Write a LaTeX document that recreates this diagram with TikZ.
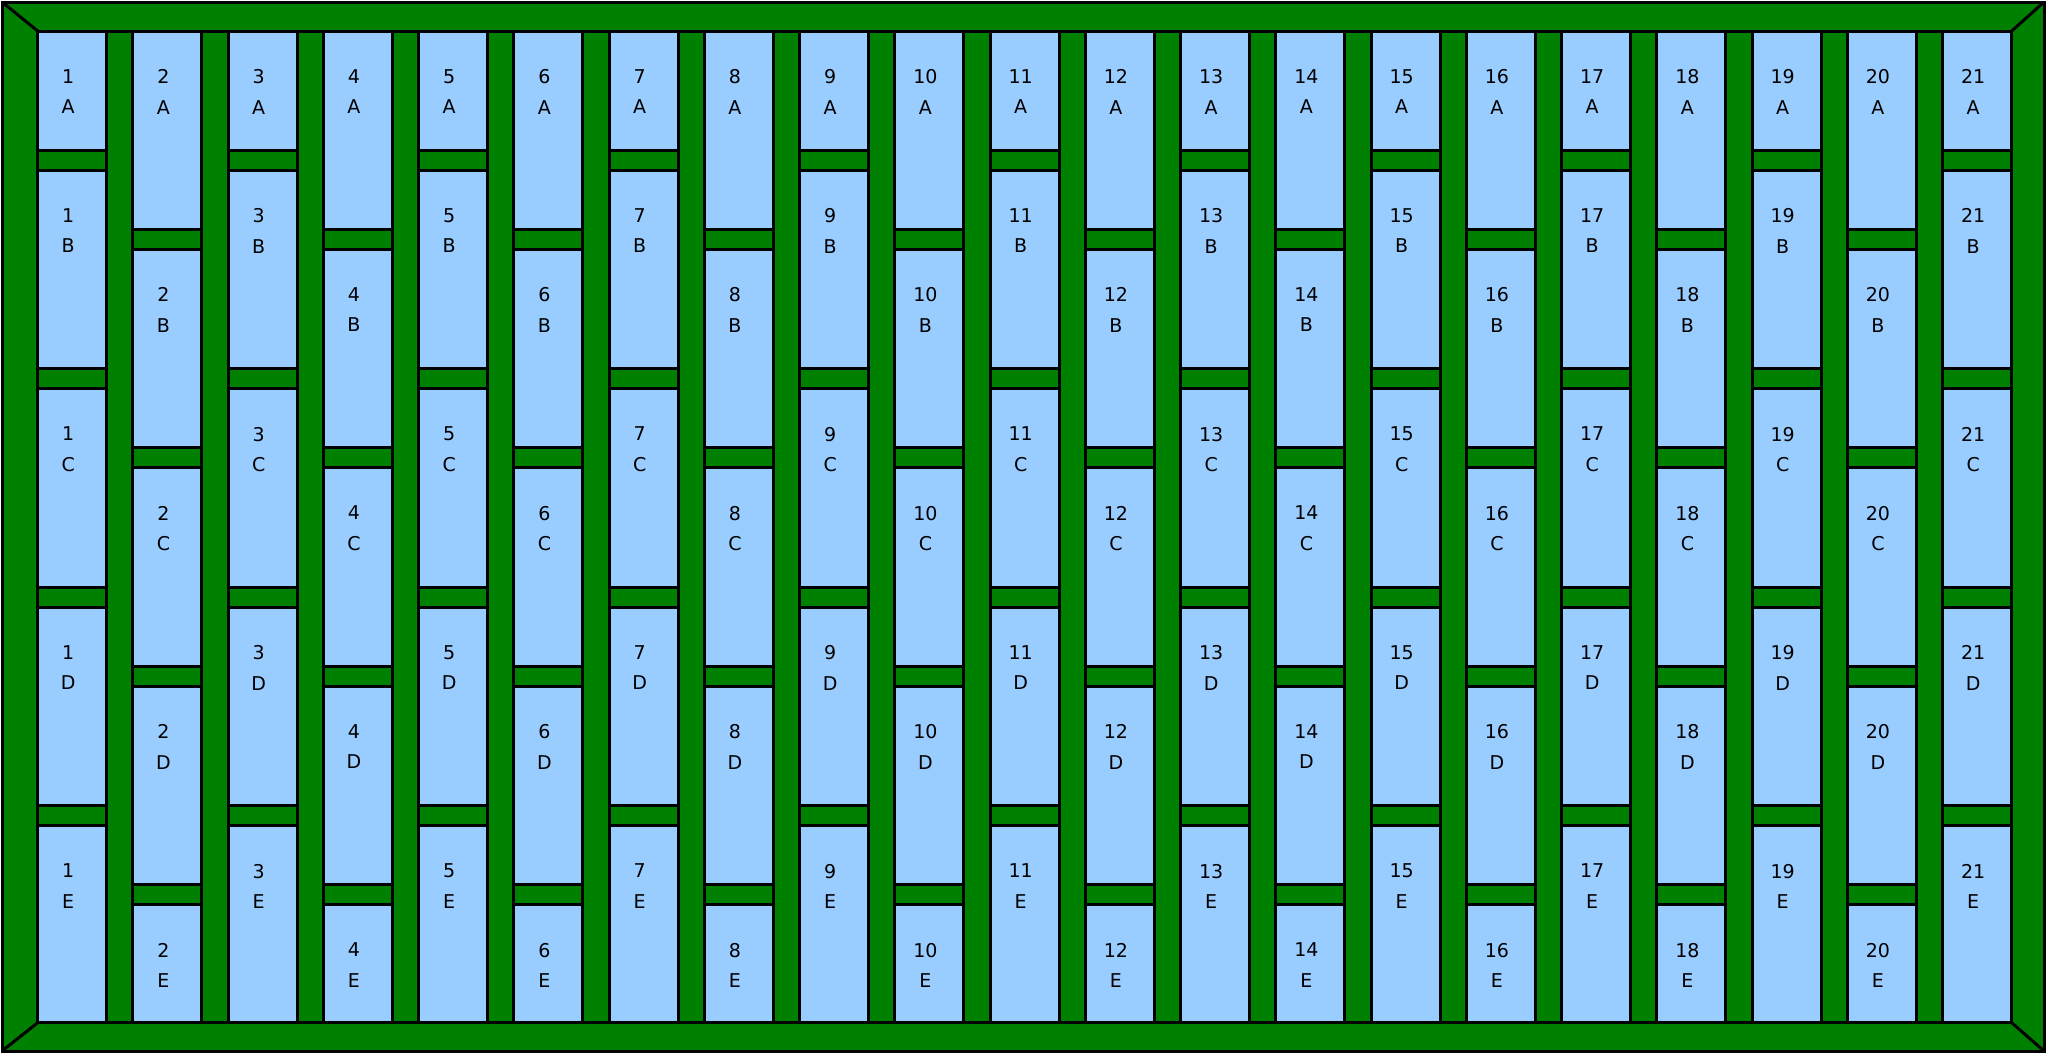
\documentclass[tikz,border=0pt]{standalone}
\usepackage{fontspec}
\setmainfont{DejaVu Sans}
\definecolor{glass}{HTML}{99CCFF}
\definecolor{lead}{HTML}{008000}
\tikzset{
  pane/.style={draw=black,fill=glass,line width=1.5pt},
  tag/.style={anchor=north,inner sep=0pt,align=center,font=\fontsize{9.5}{15.3}\selectfont}
}

\begin{document}
\begin{tikzpicture}[x=0.5pt,y=-0.5pt,line width=1.5pt]
  \useasboundingbox (0,0) rectangle (2047,1055);
  \coordinate (o1) at (2,2);
  \coordinate (o2) at (2044,2);
  \coordinate (o3) at (2044,1051);
  \coordinate (o4) at (2,1051);
  \coordinate (i1) at (37.7,31);
  \coordinate (i2) at (2011.7,31);
  \coordinate (i3) at (2011.7,1022.7);
  \coordinate (i4) at (37.7,1022.7);
  \fill[lead] (o1) rectangle (o3);
  \draw (o1) rectangle (o3);
  \draw (i1) rectangle (i3);
  \draw (o1) -- (i1);
  \draw (o2) -- (i2);
  \draw (o3) -- (i3);
  \draw (o4) -- (i4);
  \foreach \c in {1,...,21} {
    \pgfmathsetmacro{\xl}{37.7+(\c-1)*95.25}
    \pgfmathsetmacro{\xr}{\xl+69}
    \pgfmathsetmacro{\bartop}{ifthenelse(mod(\c,2)==1,150,229)}
    \foreach \r/\L in {0/A,1/B,2/C,3/D,4/E} {
      \pgfmathsetmacro{\yt}{ifthenelse(\r==0,31,\bartop+20+(\r-1)*218.5)}
      \pgfmathsetmacro{\yb}{ifthenelse(\r==4,1022.7,\bartop+\r*218.5)}
      \draw[pane] (\xl,\yt) rectangle (\xr,\yb);
      \node[tag] (p\c\L) at (\xl+30.5,\yt+37) {\c\\\L};
    }
    \draw (\xl,31) rectangle (\xr,1022.7);
  }
\end{tikzpicture}
\end{document}
